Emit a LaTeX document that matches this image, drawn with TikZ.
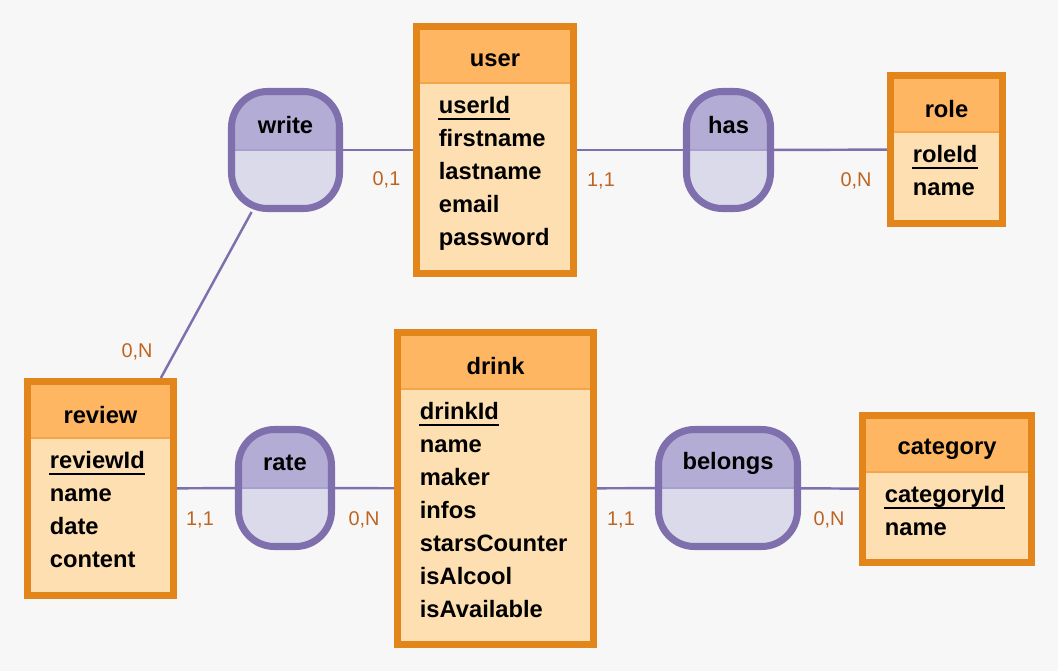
\documentclass[tikz,border=0pt]{standalone}
\usepackage{fontspec}
\setmainfont{Liberation Sans}
\usepackage{tikz}
\usetikzlibrary{backgrounds}
\usepackage{xcolor}
\definecolor{canvas}{HTML}{F7F7F7}
\definecolor{entline}{HTML}{E2851B}
\definecolor{enthead}{HTML}{FEB662}
\definecolor{entbody}{HTML}{FEDFB1}
\definecolor{entsplit}{HTML}{F3A649}
\definecolor{relline}{HTML}{7F70AD}
\definecolor{reltop}{HTML}{B3ACD5}
\definecolor{relbottom}{HTML}{DADAEB}
\definecolor{relsplit}{HTML}{A89FCC}
\definecolor{cardtext}{HTML}{BE6420}

\begin{document}
\begin{tikzpicture}[
  entity/.style={draw=entline,line width=4pt,fill=entbody,
    path picture={
      \fill[enthead] (path picture bounding box.north west) rectangle ([yshift=-1.13cm]path picture bounding box.north east);
      \draw[entsplit,line width=0.8pt] ([yshift=-1.13cm]path picture bounding box.north west) -- ([yshift=-1.13cm]path picture bounding box.north east);
    }},
  relation/.style={draw=relline,line width=4pt,fill=reltop,rounded corners=0.72cm,
    path picture={
      \fill[relbottom,sharp corners] (path picture bounding box.west) rectangle (path picture bounding box.south east);
      \draw[relsplit,sharp corners,line width=0.8pt] (path picture bounding box.west) -- (path picture bounding box.east);
    }},
  title/.style={font=\fontsize{13.5}{15}\selectfont\bfseries},
  attr/.style={font=\fontsize{13.5}{15}\selectfont\bfseries,anchor=base west,inner sep=0pt},
  keyline/.style={line width=1.6pt},
  link/.style={relline,line width=1.4pt},
  card/.style={font=\fontsize{11.3}{13}\selectfont,text=cardtext},
]
  \useasboundingbox (0,0) rectangle (21.16,-13.42);

  % user
  \node[entity,minimum width=3.14cm,minimum height=4.94cm] (user) at (9.90,-3.00) {};
  \node[title] at ([yshift=-0.74cm]user.north) {user};
  \node[attr] (userId) at ([xshift=0.51cm,yshift=-1.82cm]user.north west) {userId};
  \draw[keyline] ([yshift=-0.1cm]userId.base west) -- ([yshift=-0.1cm]userId.base east);
  \foreach \a [count=\i] in {firstname,lastname,email,password}
    \node[attr] at ([xshift=0.51cm,yshift=-1.82cm-\i*0.66cm]user.north west) {\a};

  % role
  \node[entity,minimum width=2.24cm,minimum height=2.96cm] (role) at (18.93,-2.99) {};
  \node[title] at ([yshift=-0.74cm]role.north) {role};
  \node[attr] (roleId) at ([xshift=0.51cm,yshift=-1.82cm]role.north west) {roleId};
  \draw[keyline] ([yshift=-0.1cm]roleId.base west) -- ([yshift=-0.1cm]roleId.base east);
  \node[attr] at ([xshift=0.51cm,yshift=-2.48cm]role.north west) {name};

  % drink
  \node[entity,minimum width=3.92cm,minimum height=6.24cm] (drink) at (9.91,-9.77) {};
  \node[title] at ([yshift=-0.74cm]drink.north) {drink};
  \node[attr] (drinkId) at ([xshift=0.51cm,yshift=-1.82cm]drink.north west) {drinkId};
  \draw[keyline] ([yshift=-0.1cm]drinkId.base west) -- ([yshift=-0.1cm]drinkId.base east);
  \foreach \a [count=\i] in {name,maker,infos,starsCounter,isAlcool,isAvailable}
    \node[attr] at ([xshift=0.51cm,yshift=-1.82cm-\i*0.66cm]drink.north west) {\a};

  % review
  \node[entity,minimum width=2.92cm,minimum height=4.28cm] (review) at (2.01,-9.77) {};
  \node[title] at ([yshift=-0.74cm]review.north) {review};
  \node[attr] (reviewId) at ([xshift=0.51cm,yshift=-1.82cm]review.north west) {reviewId};
  \draw[keyline] ([yshift=-0.1cm]reviewId.base west) -- ([yshift=-0.1cm]reviewId.base east);
  \foreach \a [count=\i] in {name,date,content}
    \node[attr] at ([xshift=0.51cm,yshift=-1.82cm-\i*0.66cm]review.north west) {\a};

  % category
  \node[entity,minimum width=3.38cm,minimum height=2.94cm] (category) at (18.94,-9.78) {};
  \node[title] at ([yshift=-0.74cm]category.north) {category};
  \node[attr] (categoryId) at ([xshift=0.51cm,yshift=-1.82cm]category.north west) {categoryId};
  \draw[keyline] ([yshift=-0.1cm]categoryId.base west) -- ([yshift=-0.1cm]categoryId.base east);
  \node[attr] at ([xshift=0.51cm,yshift=-2.48cm]category.north west) {name};

  % relations
  \node[relation,minimum width=2.16cm,minimum height=2.34cm] (write) at (5.71,-3.00) {};
  \node[title] at ([yshift=-0.74cm]write.north) {write};
  \node[relation,minimum width=1.68cm,minimum height=2.34cm] (has) at (14.57,-3.00) {};
  \node[title] at ([yshift=-0.74cm]has.north) {has};
  \node[relation,minimum width=1.86cm,minimum height=2.34cm] (rate) at (5.70,-9.76) {};
  \node[title] at ([yshift=-0.74cm]rate.north) {rate};
  \node[relation,minimum width=2.78cm,minimum height=2.34cm] (belongs) at (14.56,-9.76) {};
  \node[title] at ([yshift=-0.74cm]belongs.north) {belongs};

  % links
  \begin{scope}[on background layer]
    \fill[canvas] (0,0) rectangle (21.16,-13.42);
    \draw[link] (write) -- (user);
    \draw[link] (user) -- (has);
    \draw[link] (has) -- (role);
    \draw[link] (write) -- (review);
    \draw[link] (review) -- (rate);
    \draw[link] (rate) -- (drink);
    \draw[link] (drink) -- (belongs);
    \draw[link] (belongs) -- (category);
  \end{scope}

  % cardinalities
  \node[card] at (7.73,-3.60) {0,1};
  \node[card] at (12.02,-3.62) {1,1};
  \node[card] at (17.12,-3.62) {0,N};
  \node[card] at (2.74,-7.04) {0,N};
  \node[card] at (4.00,-10.40) {1,1};
  \node[card] at (7.28,-10.40) {0,N};
  \node[card] at (12.42,-10.40) {1,1};
  \node[card] at (16.58,-10.40) {0,N};
\end{tikzpicture}
\end{document}
